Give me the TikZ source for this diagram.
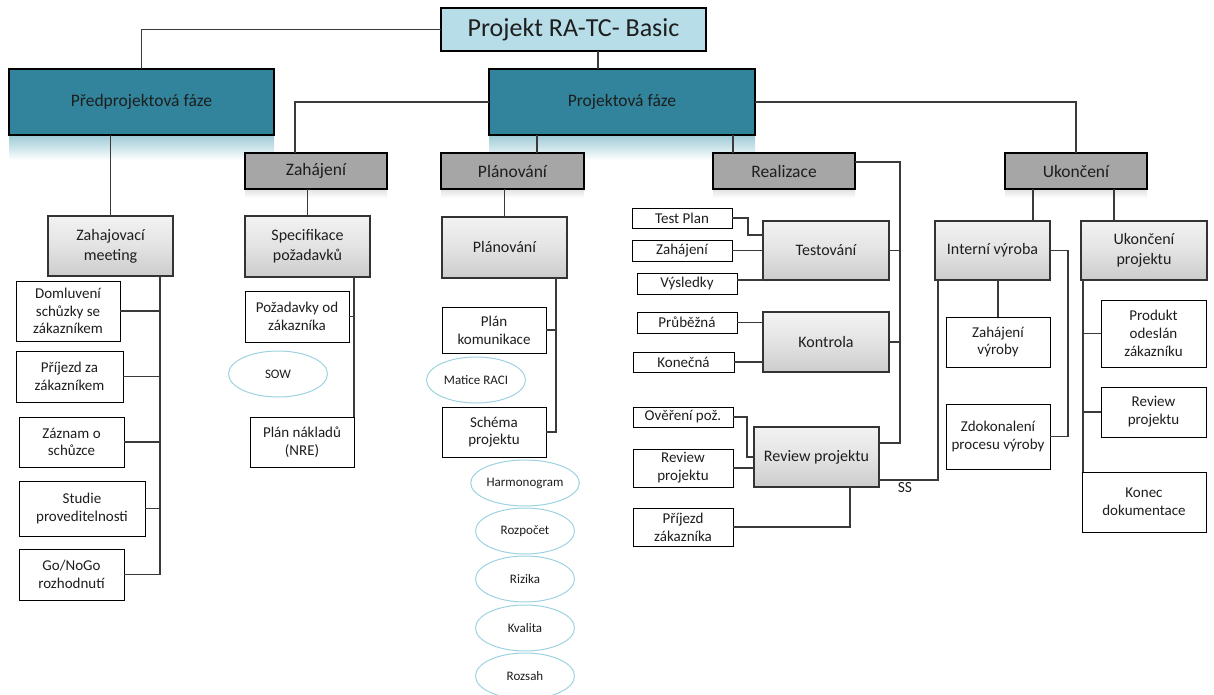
\documentclass[tikz,border=0pt]{standalone}
\usepackage{fontspec}
\setmainfont{Carlito}
\usetikzlibrary{shapes.geometric,shadows}
\definecolor{teal1}{HTML}{31849B}
\definecolor{tealr}{HTML}{9CCAD6}
\definecolor{titlebg}{HTML}{B7DEE8}
\definecolor{hdrgray}{HTML}{A6A6A6}
\definecolor{elline}{HTML}{9DD3E0}
\definecolor{lnc}{HTML}{3A3A3A}
\definecolor{txt}{HTML}{1E1E1E}
\newcommand\mybox[7]{\node[#6, minimum width={(#4-#2)*1pt}, minimum height={(#5-#3)*1pt}] (#1) at ({(#2+#4)/2},{(#3+#5)/2}) {#7};}
\newcommand\myell[4]{\node[ell] (#1) at (#2,#3) {#4};}
\tikzset{
  base/.style={inner sep=0pt, outer sep=0pt, align=center, text=txt},
  titlebox/.style={base, draw=black, line width=1.6pt, fill=titlebg, font=\fontsize{26}{30}\selectfont,
     drop shadow={opacity=0.35, shadow xshift=1.2pt, shadow yshift=-1.2pt}},
  tealbox/.style={base, draw=black, line width=1.2pt, fill=teal1, font=\fontsize{17.5}{21}\selectfont},
  graybox/.style={base, draw=black, line width=1.2pt, fill=hdrgray, font=\fontsize{17.5}{21}\selectfont},
  bevel/.style={base, draw=black!80, line width=2.4pt, top color=black!5, bottom color=black!20, middle color=black!11,
     font=\fontsize{16}{20}\selectfont},
  wbox/.style={base, draw=black, line width=0.9pt, fill=white, font=\fontsize{15}{17.8}\selectfont},
  ell/.style={base, ellipse, draw=elline, line width=1pt, minimum width=99pt, minimum height=46pt,
     font=\fontsize{13}{15}\selectfont},
  conn/.style={draw=lnc, line width=1.3pt},
}
\begin{document}
\begin{tikzpicture}[x=1pt,y=-1pt]
\useasboundingbox[fill=white] (0,0) rectangle (1214,695);
% reflections
\shade[top color=tealr, bottom color=white] (9,135) rectangle (274,160);
\shade[top color=tealr, bottom color=white] (489,135) rectangle (755,160);
\foreach \a/\b in {245/387, 441/584, 713/855, 1005/1147}
  \shade[top color=black!12, bottom color=white] (\a,189) rectangle (\b,198);
% header nodes
\mybox{top}{441}{8}{706}{51}{titlebox}{Projekt RA-TC- Basic}
\mybox{pred}{9}{69}{274}{135}{tealbox}{Předprojektová fáze}
\mybox{proj}{489}{69}{755}{135}{tealbox}{Projektová fáze}
\mybox{zah}{245}{153}{387}{189}{graybox}{Zahájení}
\mybox{plan}{441}{153}{584}{189}{graybox}{Plánování}
\mybox{real}{713}{153}{855}{189}{graybox}{Realizace}
\mybox{ukon}{1005}{153}{1147}{189}{graybox}{Ukončení}
% predprojektova
\mybox{zm}{48}{216}{173}{276}{bevel}{Zahajovací\\meeting}
\mybox{d1}{16}{281}{120}{341}{wbox}{Domluvení\\schůzky se\\zákazníkem}
\mybox{d2}{16}{351}{123}{402}{wbox}{Příjezd za\\zákazníkem}
\mybox{d3}{19}{417}{124}{467}{wbox}{Záznam o\\schůzce}
\mybox{d4}{19}{481}{145}{536}{wbox}{Studie\\proveditelnosti}
\mybox{d5}{19}{549}{124}{600}{wbox}{Go/NoGo\\rozhodnutí}
% zahajeni
\mybox{sp}{245}{216}{370}{277}{bevel}{Specifikace\\požadavků}
\mybox{pz}{245}{291}{349}{342}{wbox}{Požadavky od\\zákazníka}
\myell{sow}{278}{374}{SOW}
\mybox{pn}{250}{417}{354}{467}{wbox}{Plán nákladů\\(NRE)}
% planovani
\mybox{pl2}{442}{217}{567}{278}{bevel}{Plánování}
\mybox{pk}{442}{307}{546}{353}{wbox}{Plán\\komunikace}
\myell{raci}{476}{380}{Matice RACI}
\mybox{sch}{442}{407}{546}{457}{wbox}{Schéma\\projektu}
\myell{e1}{525}{483}{Harmonogram}
\myell{e2}{525}{531}{Rozpočet}
\myell{e3}{525}{579}{Rizika}
\myell{e4}{525}{628}{Kvalita}
\myell{e5}{525}{676}{Rozsah}
% realizace
\mybox{tp}{632}{208}{732}{228}{wbox}{Test Plan}
\mybox{zj}{632}{240}{732}{261}{wbox}{Zahájení}
\mybox{vy}{637}{273}{737}{294}{wbox}{Výsledky}
\mybox{tst}{763}{221}{889}{280}{bevel}{Testování}
\mybox{pr}{637}{312}{737}{333}{wbox}{Průběžná}
\mybox{kn}{633}{352}{734}{372}{wbox}{Konečná}
\mybox{kon}{763}{312}{889}{372}{bevel}{Kontrola}
\mybox{ov}{633}{407}{733}{427}{wbox}{Ověření pož.}
\mybox{rp2}{633}{449}{733}{487}{wbox}{Review\\projektu}
\mybox{pj}{633}{508}{733}{546}{wbox}{Příjezd\\zákazníka}
\mybox{rev}{754}{427}{879}{487}{bevel}{Review projektu}
% ukonceni
\mybox{iv}{935}{221}{1050}{280}{bevel}{Interní výroba}
\mybox{up}{1081}{221}{1207}{280}{bevel}{Ukončení\\projektu}
\mybox{zv}{946}{317}{1050}{367}{wbox}{Zahájení\\výroby}
\mybox{zd}{946}{404}{1050}{469}{wbox}{Zdokonalení\\procesu výroby}
\mybox{po}{1101}{300}{1206}{367}{wbox}{Produkt\\odeslán\\zákazníku}
\mybox{rv3}{1101}{387}{1206}{437}{wbox}{Review\\projektu}
\mybox{kd}{1082}{472}{1206}{532}{wbox}{Konec\\dokumentace}
% connectors: top level
\draw[conn] (top.west) -| (pred.north);
\draw[conn] ([xshift=24.5pt]top.south) -- ([xshift=-24pt]proj.north);
\draw[conn] (proj.west) -| ([xshift=-21pt]zah.north);
\draw[conn] ([xshift=-85pt]proj.south) -- ([xshift=24.5pt]plan.north);
\draw[conn] ([xshift=111pt]proj.south) -- ([xshift=-51pt]real.north);
\draw[conn] (proj.east) -| (ukon.north);
% predprojektova
\draw[conn] (zm.north) -- (zm.north |- pred.south);
\coordinate (zmb) at ([xshift=49.5pt]zm.south);
\draw[conn] (zmb) |- (d5.east);
\foreach \n in {d1,d2,d3,d4} \draw[conn] (\n.east) -- (\n.east -| zmb);
% zahajeni
\draw[conn] (sp.north) -- (sp.north |- zah.south);
\coordinate (spb) at ([xshift=46.5pt]sp.south);
\draw[conn] (spb) -- (pn.north east);
\draw[conn] (pz.east) -- (pz.east -| spb);
% planovani
\draw[conn] (pl2.north) -- (pl2.north |- plan.south);
\coordinate (plb) at ([xshift=51.5pt]pl2.south);
\draw[conn] (plb) |- (sch.east);
\draw[conn] (pk.east) -- (pk.east -| plb);
% realizace
\draw[conn] ([yshift=9pt]real.east) -- ++(45,0) coordinate (rb) |- ([yshift=14pt]rev.east);
\draw[conn] (tst.east) -- (tst.east -| rb);
\draw[conn] (kon.east) -- (kon.east -| rb);
\draw[conn] (tp.east) -- ++(16,0) |- ([yshift=15.5pt]tst.west);
\draw[conn] (zj.east) -- (zj.east -| tst.west);
\draw[conn] (tst.south west -| vy.east) -- (tst.south west);
\draw[conn] (pr.east) -- (pr.east -| kon.west);
\draw[conn] (kn.east) -- (kn.east -| kon.west);
\draw[conn] (ov.east) -- ++(14,0) |- (rev.west);
\draw[conn] (rp2.east) -- (rp2.east -| rev.west);
\draw[conn] (pj.east) -| ([xshift=33.5pt]rev.south);
\draw[conn] ([yshift=-23pt]rev.east) -| node[pos=0.22, below, text=txt, font=\fontsize{15.5}{18}\selectfont, inner sep=1.5pt] (ss) {SS} ([xshift=-54.5pt]iv.south);
% ukonceni
\draw[conn] ([xshift=40.5pt]iv.north) -- ([xshift=40.5pt]iv.north |- ukon.south);
\draw[conn] ([xshift=-30pt]up.north) -- ([xshift=-30pt]up.north |- ukon.south);
\draw[conn] (zv.north) -- (zv.north |- iv.south);
\draw[conn] (zd.east) -- ++(18,0) |- (iv.east);
\coordinate (ub) at ([xshift=-61pt]up.south);
\draw[conn] (ub) -- (ub |- kd.north);
\draw[conn] (po.west) -- (po.west -| ub);
\draw[conn] (rv3.west) -- (rv3.west -| ub);
\end{tikzpicture}
\end{document}
